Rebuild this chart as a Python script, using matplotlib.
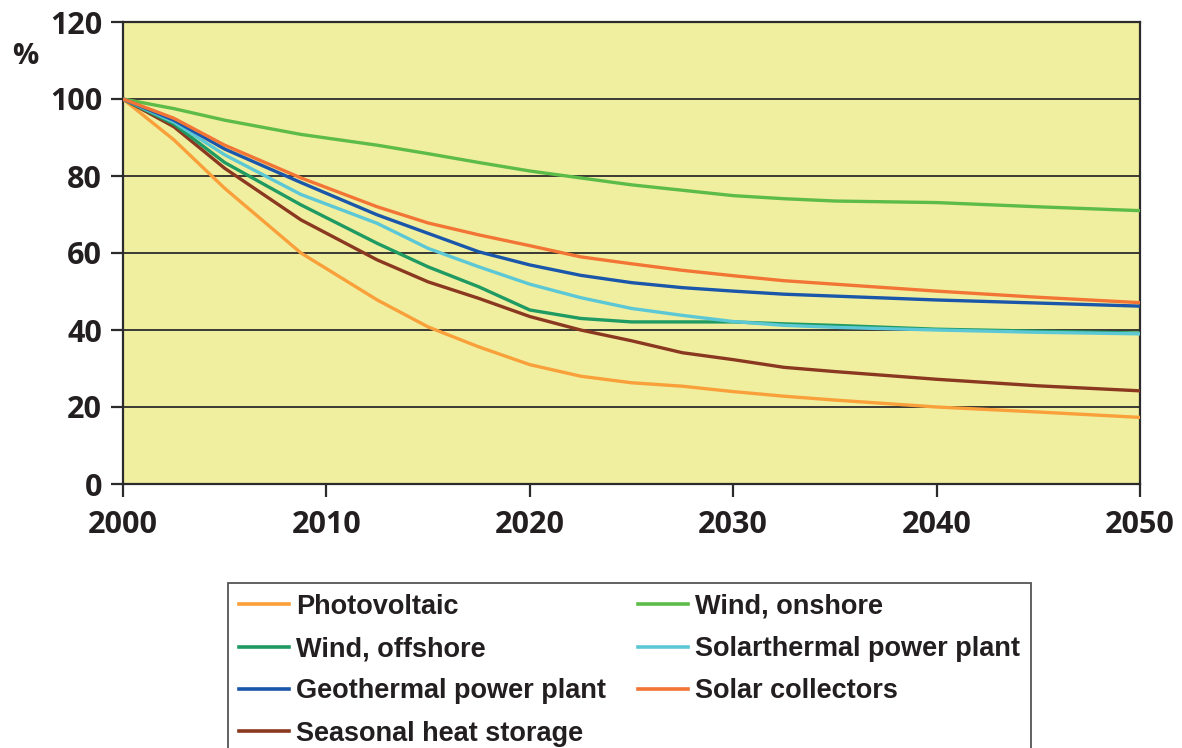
import matplotlib
matplotlib.use("Agg")
import matplotlib.pyplot as plt
from matplotlib.lines import Line2D

years = [2000, 2002.5, 2005, 2008.75, 2012.5, 2015, 2017.5, 2020, 2022.5,
         2025, 2027.5, 2030, 2032.5, 2035, 2040, 2045, 2050]

photovoltaic = [100, 89.4, 76.8, 60, 47.8, 40.8, 35.6, 31, 28, 26.3, 25.4, 24, 22.8, 21.8, 20, 18.7, 17.3]
wind_onshore = [100, 97.5, 94.5, 90.8, 88, 85.8, 83.5, 81.3, 79.5, 77.7, 76.3, 74.9, 74.1, 73.5, 73.1, 72, 71]
wind_offshore = [100, 93.5, 83.5, 72.5, 62.5, 56.4, 51.2, 45.2, 43, 42.1, 42.1, 42.1, 41.6, 41.2, 40.2, 39.7, 39.2]
solarthermal = [100, 94, 85.5, 75.2, 67.7, 61.2, 56.4, 51.9, 48.4, 45.6, 43.8, 42.2, 41.2, 40.7, 40, 39.4, 39]
geothermal = [100, 94.5, 87, 78.3, 69.9, 65.1, 60.3, 56.9, 54.2, 52.3, 51, 50.1, 49.3, 48.8, 47.8, 47, 46.2]
solar_collectors = [100, 95, 88, 79.5, 72, 67.8, 64.7, 61.9, 59, 57.2, 55.5, 54.1, 52.8, 51.9, 50.1, 48.5, 47.1]
seasonal_storage = [100, 92.8, 82, 68.6, 58.2, 52.5, 48.2, 43.5, 40, 37.2, 34.1, 32.3, 30.3, 29.2, 27.2, 25.5, 24.2]

series = [
    ("Photovoltaic", photovoltaic, "#F9A03A"),
    ("Wind, offshore", wind_offshore, "#1F9A62"),
    ("Geothermal power plant", geothermal, "#1A56AA"),
    ("Seasonal heat storage", seasonal_storage, "#8A3820"),
    ("Wind, onshore", wind_onshore, "#5DBB47"),
    ("Solarthermal power plant", solarthermal, "#5CC8D6"),
    ("Solar collectors", solar_collectors, "#F27535"),
]
draw_order = ["Wind, onshore", "Photovoltaic", "Seasonal heat storage", "Wind, offshore",
              "Solarthermal power plant", "Geothermal power plant", "Solar collectors"]

x_ticks = [2000, 2010, 2020, 2030, 2040, 2050]
y_ticks = [0, 20, 40, 60, 80, 100, 120]

W, H = 1182, 748
fig = plt.figure(figsize=(W / 100, H / 100), dpi=100)
ax = fig.add_axes([123 / W, 1 - 484 / H, (1140 - 123) / W, (484 - 22) / H])
ax.set_facecolor("#F0EE9F")

lookup = {name: (vals, col) for name, vals, col in series}
for name in draw_order:
    vals, col = lookup[name]
    ax.plot(years, vals, color=col, lw=2.4, solid_capstyle="butt", zorder=3)

ax.set_xlim(2000, 2050)
ax.set_ylim(0, 120)
ax.set_xticks(x_ticks)
ax.set_yticks(y_ticks)
ax.yaxis.grid(True, color="#2b2b2b", lw=1.3, zorder=1)
ax.set_axisbelow(True)
for s in ax.spines.values():
    s.set_color("#2b2b2b")
    s.set_linewidth(1.6)

tick_font = dict(family="Open Sans", weight="bold", size=22)
ax.set_xticklabels([str(t) for t in x_ticks], **tick_font, color="#231f20")
ax.set_yticklabels([str(t) for t in y_ticks], **tick_font, color="#231f20")
ax.tick_params(axis="y", length=9, width=1.6, color="#2b2b2b", pad=6)
ax.tick_params(axis="x", length=9, width=1.6, color="#2b2b2b", pad=10)

fig.text(25 / W, 1 - 57 / H, "%", ha="center", va="center",
         family="Open Sans", weight="bold", size=21, color="#231f20")

handles = [Line2D([0], [0], color=col, lw=2.6) for _, _, col in series]
labels = [name for name, _, _ in series]
leg = fig.legend(handles, labels, ncol=2, loc="upper left",
                 bbox_to_anchor=(228 / W, 1 - 583 / H),
                 prop=dict(family="Liberation Sans", weight="bold", size=19.5),
                 frameon=True, fancybox=False, edgecolor="#2b2b2b",
                 handlelength=1.85, handletextpad=0.25, columnspacing=1.2,
                 labelspacing=0.6, borderpad=0.4, borderaxespad=0)
leg.get_frame().set_linewidth(1.3)
for t in leg.get_texts():
    t.set_color("#231f20")

fig.savefig("out.png", dpi=100)
